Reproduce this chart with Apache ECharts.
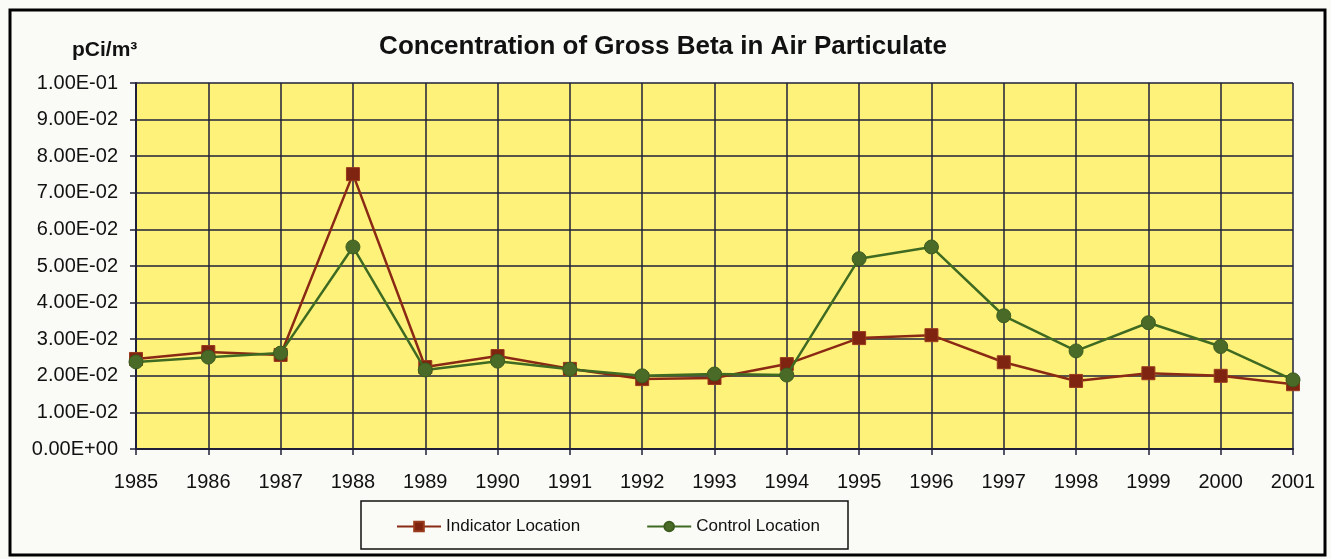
<!DOCTYPE html>
<html>
<head>
<meta charset="utf-8">
<script src="https://cdn.jsdelivr.net/npm/echarts@6/dist/echarts.min.js"></script>
<style>
  html, body { margin: 0; padding: 0; background: #fafaf7; }
  #chart { width: 1331px; height: 559px; }
</style>
</head>
<body>
<div id="chart"></div>
<script>
// years on the x axis
const years = ["1985", "1986", "1987", "1988", "1989", "1990", "1991", "1992", "1993",
  "1994", "1995", "1996", "1997", "1998", "1999", "2000", "2001"];

// pCi/m3
const indicatorLocation = [0.0246, 0.0265, 0.0257, 0.0751, 0.0224, 0.0254, 0.0219, 0.0191, 0.0194,
  0.0232, 0.0303, 0.0311, 0.0237, 0.0186, 0.0207, 0.0200, 0.0177];
const controlLocation = [0.0238, 0.0251, 0.0262, 0.0552, 0.0216, 0.0240, 0.0218, 0.0200, 0.0205,
  0.0202, 0.0520, 0.0552, 0.0364, 0.0268, 0.0345, 0.0280, 0.0189];

const FONT = '"Liberation Sans", Arial, sans-serif';
const gridColor = "#1f1f3a";

// 0.01 -> "1.00E-02"
function sciLabel(v) {
  if (v === 0) return "0.00E+00";
  let s = v.toExponential(2).toUpperCase();
  let parts = s.split("E");
  let exp = parseInt(parts[1], 10);
  let sign = exp < 0 ? "-" : "+";
  let e = Math.abs(exp);
  return parts[0] + "E" + sign + (e < 10 ? "0" + e : e);
}

const chart = echarts.init(document.getElementById("chart"));

const option = {
  backgroundColor: "#fafaf7",
  animation: false,
  textStyle: { fontFamily: FONT },
  title: [
    {
      text: "Concentration of Gross Beta in Air Particulate",
      left: 658,
      top: 29,
      textAlign: "center",
      textStyle: { fontFamily: FONT, fontSize: 26, fontWeight: "bold", color: "#111" },
    },
    {
      text: "pCi/m³",
      left: 67,
      top: 35,
      textStyle: { fontFamily: FONT, fontSize: 21, fontWeight: "bold", color: "#111" },
    },
  ],
  graphic: [
    {
      type: "rect",
      shape: { x: 10, y: 10, width: 1315, height: 545 },
      style: { fill: null, stroke: "#000", lineWidth: 3 },
      z: 100,
    },
    {
      type: "rect",
      shape: { x: 361, y: 501, width: 487, height: 48 },
      style: { fill: "#fafaf7", stroke: "#111", lineWidth: 1.5 },
      z: 1,
    },
  ],
  legend: {
    left: 391,
    top: 513,
    itemWidth: 44,
    itemHeight: 12,
    itemGap: 66,
    textStyle: { fontFamily: FONT, fontSize: 17, color: "#111" },
    data: ["Indicator Location", "Control Location"],
    z: 5,
  },
  grid: {
    left: 136,
    right: 38,
    top: 83,
    bottom: 110,
    show: true,
    backgroundColor: "#fff27a",
    borderWidth: 0,
  },
  xAxis: {
    type: "category",
    boundaryGap: false,
    data: years,
    axisLine: { show: true, lineStyle: { color: gridColor, width: 2 } },
    axisTick: { show: true, alignWithLabel: true, length: 6, lineStyle: { color: gridColor, width: 1.5 } },
    axisLabel: { fontFamily: FONT, fontSize: 20, color: "#111", margin: 23 },
    splitLine: { show: true, lineStyle: { color: gridColor, width: 1.5 } },
  },
  yAxis: {
    type: "value",
    min: 0,
    max: 0.1,
    interval: 0.01,
    axisLine: { show: true, lineStyle: { color: gridColor, width: 2 } },
    axisTick: { show: true, length: 6, lineStyle: { color: gridColor, width: 1.5 } },
    axisLabel: { fontFamily: FONT, fontSize: 20, color: "#111", margin: 18, formatter: sciLabel },
    splitLine: { show: true, lineStyle: { color: gridColor, width: 1.5 } },
  },
  series: [
    {
      name: "Indicator Location",
      type: "line",
      data: indicatorLocation,
      symbol: "rect",
      symbolSize: 13,
      lineStyle: { color: "#8a2a14", width: 2.5 },
      itemStyle: { color: "#7e2410", borderColor: "#9a3a1c", borderWidth: 1 },
      z: 3,
    },
    {
      name: "Control Location",
      type: "line",
      data: controlLocation,
      symbol: "circle",
      symbolSize: 14,
      lineStyle: { color: "#3f6a22", width: 2.5 },
      itemStyle: { color: "#4a6b28", borderColor: "#3c5c1e", borderWidth: 1 },
      z: 4,
    },
  ],
};

chart.setOption(option);
</script>
</body>
</html>
